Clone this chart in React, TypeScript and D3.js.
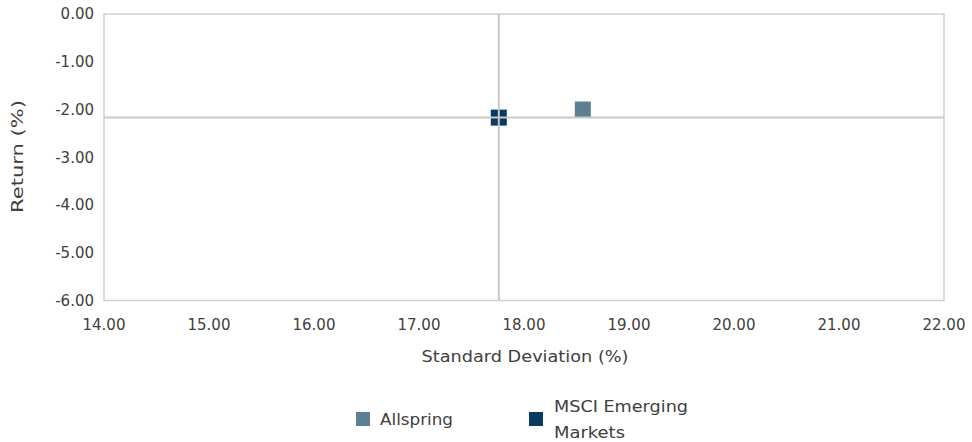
import React from "react";
import * as d3 from "d3";

const seriesNames = ["Allspring", "MSCI Emerging Markets"];
const stdDev = [18.56, 17.76];
const returns = [-2.0, -2.17];
const colors = ["#5e7e91", "#0a3a5f"];
const xTicks = [14, 15, 16, 17, 18, 19, 20, 21, 22];
const yTicks = [0, -1, -2, -3, -4, -5, -6];
const benchmarkIndex = 1;

const W = 972;
const H = 442;
const FONT = "'DejaVu Sans', 'Liberation Sans', sans-serif";
const TXT = "#404040";
const FS = 15;

const fmt = (v: number) => v.toFixed(2);

export default function App() {
  const x = d3.scaleLinear().domain([14, 22]).range([104, 944]);
  const y = d3.scaleLinear().domain([0, -6]).range([14, 300.5]);
  const bx = x(stdDev[benchmarkIndex]);
  const by = y(returns[benchmarkIndex]);
  const sq = 16;

  return (
    <svg width={W} height={H} style={{ position: "absolute", left: 0, top: 0 }}>
      <rect x={0} y={0} width={W} height={H} fill="#fff" />
      <rect
        x={x(14)}
        y={y(0)}
        width={x(22) - x(14)}
        height={y(-6) - y(0)}
        fill="none"
        stroke="#cfcfcf"
        strokeWidth={1.5}
      />
      {stdDev.map((v, i) => (
        <rect
          key={i}
          x={x(v) - sq / 2}
          y={y(returns[i]) - sq / 2}
          width={sq}
          height={sq}
          fill={colors[i]}
        />
      ))}
      <line x1={bx} x2={bx} y1={y(0)} y2={y(-6)} stroke="#c8c8c8" strokeWidth={2} />
      <line x1={x(14)} x2={x(22)} y1={by} y2={by} stroke="#c8c8c8" strokeWidth={2} />
      {yTicks.map((t) => (
        <text
          key={"y" + t}
          x={94}
          y={y(t)}
          dy="0.36em"
          textAnchor="end"
          fontFamily={FONT}
          fontSize={FS}
          fill={TXT}
        >
          {fmt(t)}
        </text>
      ))}
      {xTicks.map((t) => (
        <text
          key={"x" + t}
          x={x(t)}
          y={330}
          textAnchor="middle"
          fontFamily={FONT}
          fontSize={FS}
          fill={TXT}
        >
          {fmt(t)}
        </text>
      ))}
      <text
        x={421.5}
        y={362}
        textLength={207}
        lengthAdjust="spacingAndGlyphs"
        fontFamily={FONT}
        fontSize={FS}
        fill={TXT}
      >
        Standard Deviation (%)
      </text>
      <text
        transform={`translate(23,157) rotate(-90)`}
        x={-56}
        textLength={113}
        lengthAdjust="spacingAndGlyphs"
        fontFamily={FONT}
        fontSize={FS}
        fill={TXT}
      >
        Return (%)
      </text>
      {/* legend */}
      <rect x={356} y={412} width={14} height={14} fill={colors[0]} />
      <text x={380} y={424.5} textLength={73} lengthAdjust="spacingAndGlyphs" fontFamily={FONT} fontSize={FS} fill={TXT}>
        {seriesNames[0]}
      </text>
      <rect x={529} y={412} width={14} height={14} fill={colors[1]} />
      <text x={554} y={412} textLength={134} lengthAdjust="spacingAndGlyphs" fontFamily={FONT} fontSize={FS} fill={TXT}>
        MSCI Emerging
      </text>
      <text x={554} y={438} textLength={71} lengthAdjust="spacingAndGlyphs" fontFamily={FONT} fontSize={FS} fill={TXT}>
        Markets
      </text>
    </svg>
  );
}
